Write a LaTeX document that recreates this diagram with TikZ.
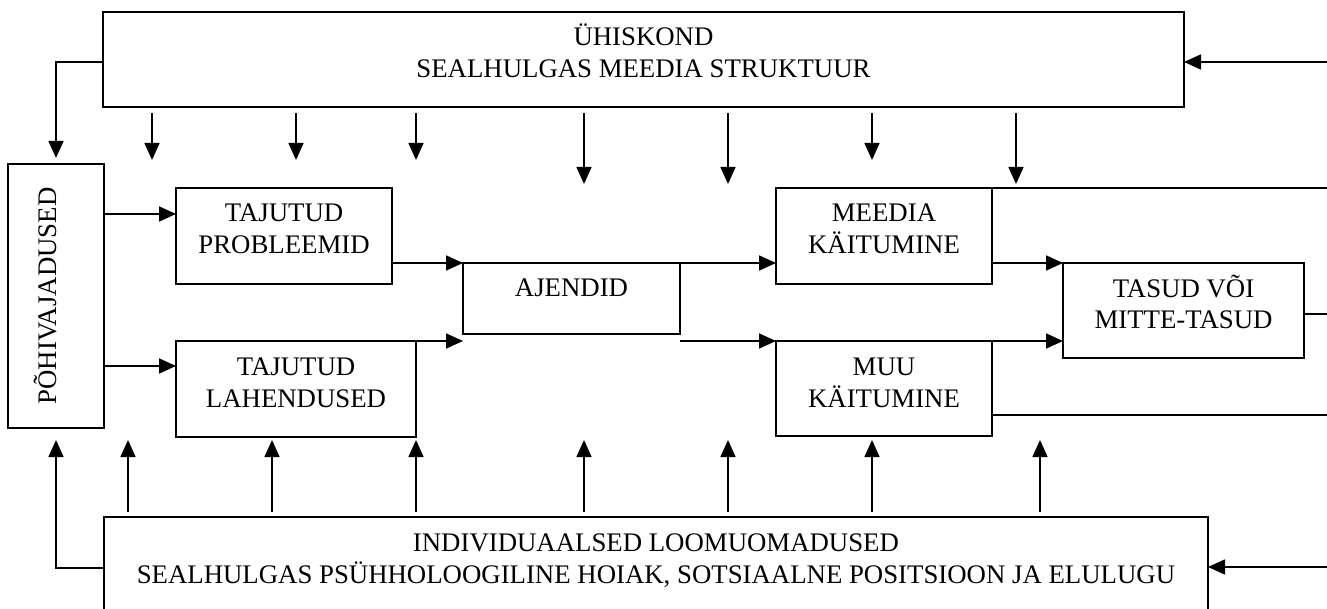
\documentclass[tikz,border=0pt]{standalone}
\usepackage{fontspec}
\setmainfont{Liberation Serif}
\usetikzlibrary{arrows.meta}
\newcommand{\bxtext}[3]{\begin{minipage}[c][#2pt][t]{#1pt}\centering\fontsize{26.8}{32}\selectfont\rule{0pt}{34pt}#3\end{minipage}}
\begin{document}
\begin{tikzpicture}[x=1pt,y=-1pt,
  line width=1.7pt,
  box/.style={draw, line width=1.7pt, inner sep=0pt, outer sep=0pt, anchor=north west},
  arr/.style={-{Triangle[length=17pt,width=15pt]}},
  lbl/.style={font=\fontsize{26.8}{32}\selectfont, inner sep=0pt}]
\useasboundingbox (0,0) rectangle (1327,609);
\clip (0,0) rectangle (1327,609);
% boxes
\node[box] (soc) at (103,12) {\bxtext{1081}{95}{ÜHISKOND\\SEALHULGAS MEEDIA STRUKTUUR}};
\node[box] (poh) at (8,164) {\bxtext{96}{264}{}};
\node[lbl, rotate=90, anchor=base] (pohtext) at (56,296) {PÕHIVAJADUSED};
\node[box] (prob) at (176,188) {\bxtext{216}{96}{TAJUTUD\\PROBLEEMID}};
\node[box] (lah) at (176,341) {\bxtext{240}{96}{TAJUTUD\\LAHENDUSED}};
\node[box] (ajendid) at (463,263) {\bxtext{217}{71}{AJENDID}};
\node[box] (meedia) at (776,188) {\bxtext{216}{96}{MEEDIA\\KÄITUMINE}};
\node[box] (muu) at (776,341) {\bxtext{216}{95}{MUU\\KÄITUMINE}};
\node[box] (tasud) at (1063,263) {\bxtext{241}{95}{TASUD VÕI\\MITTE-TASUD}};
\node[box] (indiv) at (104,517) {\bxtext{1104}{130}{INDIVIDUAALSED LOOMUOMADUSED\\SEALHULGAS PSÜHHOLOOGILINE HOIAK, SOTSIAALNE POSITSIOON JA ELULUGU}};
% free ends
\coordinate (rtop) at (1327,62);
\coordinate (rbot) at (1327,567);
\coordinate (rmeedia) at (1327,188);
\coordinate (rtasud) at (1327,314);
\coordinate (rmuu) at (1327,415);
\coordinate (lefttop) at (56,62);
\coordinate (leftbot) at (56,568);
% incoming from right
\draw[arr] (rtop) -- (rtop -| soc.east);
\draw[arr] (rbot) -- (rbot -| indiv.east);
% outgoing to right
\draw (meedia.north east) -- (rmeedia);
\draw (rtasud -| tasud.east) -- (rtasud);
\draw (rmuu -| muu.east) -- (rmuu);
% left paths
\draw[arr] (lefttop -| soc.west) -- (lefttop) -- ([yshift=6pt]poh.north -| lefttop);
\draw[arr] (leftbot -| indiv.west) -- (leftbot) -- ([yshift=-12pt]poh.south -| leftbot);
% down arrows from society
\foreach \x/\t in {152/160,296/160,416/160,584/184,728/184,872/160,1016/184}
  \draw[arr] ([yshift=-6pt]soc.south -| \x,0) -- (\x,\t);
% up arrows from individual
\foreach \x in {128,272,416,584,728,872,1040}
  \draw[arr] ([yshift=5pt]indiv.north -| \x,0) -- (\x,440);
% flow
\draw[arr] (poh.east |- 0,214) -- (prob.west |- 0,214);
\draw[arr] (poh.east |- 0,366) -- (lah.west |- 0,366);
\draw[arr] (prob.east |- ajendid.north) -- (ajendid.north west);
\draw[arr] (lah.north east) -- (lah.north east -| ajendid.west);
\draw[arr] (ajendid.north east) -- (ajendid.north east -| meedia.west);
\draw[arr] (ajendid.east |- muu.north) -- (muu.north west);
\draw[arr] (meedia.east |- tasud.north) -- (tasud.north west);
\draw[arr] (muu.north east) -- (muu.north east -| tasud.west);
\end{tikzpicture}
\end{document}
